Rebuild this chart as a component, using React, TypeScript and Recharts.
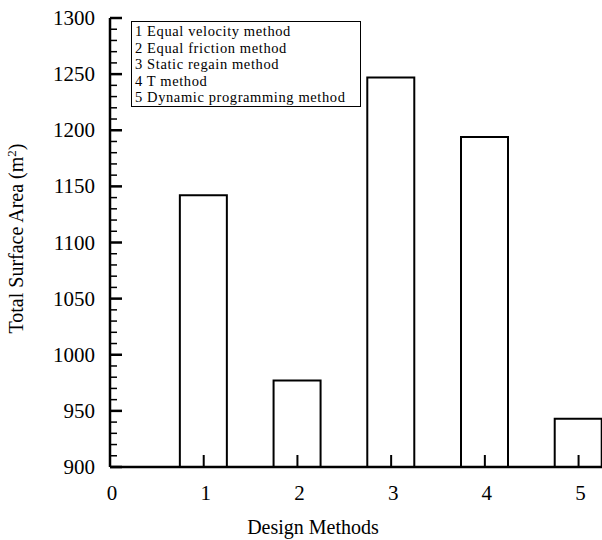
import React from "react";
import { ComposedChart, Bar, XAxis, YAxis } from "recharts";

const methods = [1, 2, 3, 4, 5];
const methodNames = [
  "Equal velocity method",
  "Equal friction method",
  "Static regain method",
  "T method",
  "Dynamic programming method",
];
const surfaceArea = [1142, 977, 1247, 1194, 943];
const xTicks = [0, 1, 2, 3, 4, 5];
const yMajorTicks = [900, 950, 1000, 1050, 1100, 1150, 1200, 1250, 1300];

const yTicks: number[] = [];
for (let v = 900; v <= 1300; v += 10) yTicks.push(v);

const data = methods.map((m, i) => ({ method: m, area: surfaceArea[i] }));

const serif = '"Liberation Serif", "Times New Roman", serif';

const XTick = (props: any) => {
  const { x, y, payload } = props;
  return (
    <g>
      {payload.value !== 0 && (
        <line x1={x} y1={y} x2={x} y2={y - 12} stroke="#000" strokeWidth={2} />
      )}
      <text x={x + 2} y={y + 33} textAnchor="middle" fontSize={21} fontFamily={serif} fill="#000">
        {payload.value}
      </text>
    </g>
  );
};

const YTick = (props: any) => {
  const { x, y, payload } = props;
  const major = yMajorTicks.includes(payload.value);
  return (
    <g>
      <line x1={x} y1={y} x2={x + (major ? 12 : 7)} y2={y} stroke="#000" strokeWidth={major ? 2.5 : 1.5} />
      {major && (
        <text x={x - 15} y={y} dy={7} textAnchor="end" fontSize={21} fontFamily={serif} fill="#000">
          {payload.value}
        </text>
      )}
    </g>
  );
};

export default function App() {
  return (
    <div style={{ position: "absolute", left: 0, top: 0, width: 602, height: 540, background: "#fff" }}>
      <ComposedChart
        width={602}
        height={540}
        data={data}
        margin={{ top: 18, right: 0, left: 0, bottom: 0 }}
      >
        <XAxis
          dataKey="method"
          type="number"
          domain={[0, 5.25]}
          ticks={xTicks}
          interval={0}
          allowDataOverflow
          height={73}
          tickSize={0}
          tickMargin={0}
          tickLine={false}
          tick={<XTick />}
          axisLine={{ stroke: "#000", strokeWidth: 2.5 }}
          label={{
            content: (p: any) => (
              <text
                x={p.viewBox.x + 203}
                y={p.viewBox.y + 67}
                textAnchor="middle"
                fontSize={20}
                fontFamily={serif}
                fill="#000"
              >
                Design Methods
              </text>
            ),
          }}
        />
        <YAxis
          type="number"
          domain={[900, 1300]}
          ticks={yTicks}
          interval={0}
          width={110}
          tickSize={0}
          tickMargin={0}
          tickLine={false}
          tick={<YTick />}
          axisLine={{ stroke: "#000", strokeWidth: 2.5 }}
          label={{
            content: (p: any) => {
              const cx = p.viewBox.x + 23;
              const cy = p.viewBox.y + p.viewBox.height / 2 - 4;
              return (
                <text
                  x={cx}
                  y={cy}
                  transform={`rotate(-90 ${cx} ${cy})`}
                  textAnchor="middle"
                  fontSize={20}
                  fontFamily={serif}
                  fill="#000"
                >
                  <tspan>Total Surface Area (m</tspan>
                  <tspan dy={-7} fontSize={13}>2</tspan>
                  <tspan dy={7}>)</tspan>
                </text>
              );
            },
          }}
        />
        <Bar
          dataKey="area"
          barSize={47}
          fill="#fff"
          stroke="#000"
          strokeWidth={2}
          isAnimationActive={false}
        />
      </ComposedChart>
      <div
        style={{
          position: "absolute",
          left: 131,
          top: 21,
          width: 225,
          height: 83,
          border: "1.5px solid #000",
          padding: "1px 0 0 3px",
          fontFamily: serif,
          fontSize: 14.5,
          lineHeight: "16.6px",
          letterSpacing: 0.6,
          color: "#000",
          background: "#fff",
          whiteSpace: "nowrap",
        }}
      >
        {methods.map((m, i) => (
          <div key={m}>
            {m} {methodNames[i]}
          </div>
        ))}
      </div>
    </div>
  );
}
